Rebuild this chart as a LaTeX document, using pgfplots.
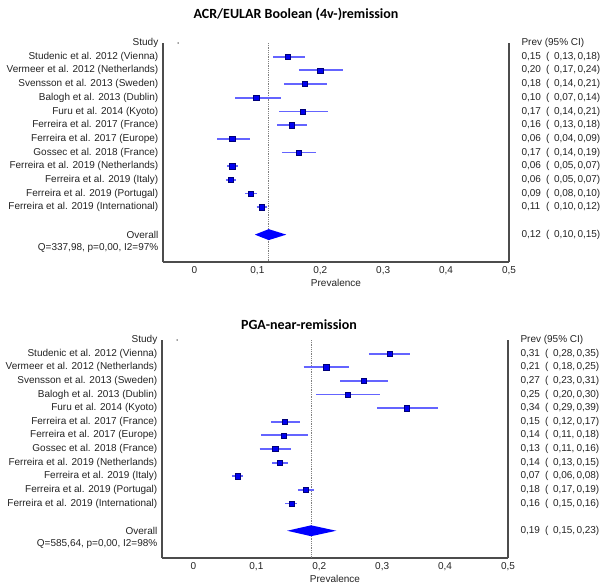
\documentclass[border=0pt]{standalone}
\usepackage{pgfplots}
\pgfplotsset{compat=1.18}
\usepackage{pgfplotstable}
\usepackage{fontspec}
\setmainfont{Liberation Sans}
\newfontfamily\titlefont{Carlito}

\definecolor{ciblue}{RGB}{100,100,255}
\definecolor{sqblue}{RGB}{0,0,240}
\definecolor{sqedge}{RGB}{0,0,120}
\definecolor{txt}{RGB}{35,35,35}

\newcommand\lbl{\fontsize{10bp}{12bp}\selectfont}
\newcommand\ttl{\titlefont\bfseries\fontsize{14bp}{16bp}\selectfont}
% estimate ( lower, upper ) column
\newcommand\pv[3]{\makebox[24.5bp][l]{#1}\makebox[8bp][l]{(}\makebox[23.5bp][l]{#2,}#3)}

% rows are negative so that the first study sits at the top
\pgfplotstableread{
row est lo hi
-1 0.148 0.125 0.175
-2 0.200 0.166 0.236
-3 0.175 0.142 0.210
-4 0.098 0.065 0.137
-5 0.172 0.135 0.212
-6 0.155 0.132 0.179
-7 0.060 0.036 0.088
-8 0.166 0.139 0.194
-9 0.060 0.052 0.070
-10 0.057 0.050 0.066
-11 0.089 0.081 0.099
-12 0.107 0.099 0.116
}\acrdata

\pgfplotstableread{
row est lo hi
-1 0.312 0.279 0.345
-2 0.211 0.175 0.247
-3 0.271 0.233 0.309
-4 0.245 0.195 0.297
-5 0.339 0.292 0.389
-6 0.145 0.124 0.170
-7 0.143 0.108 0.182
-8 0.130 0.105 0.155
-9 0.137 0.125 0.150
-10 0.070 0.062 0.079
-11 0.178 0.166 0.191
-12 0.156 0.146 0.165
}\pgadata

\pgfplotsset{
  forest/.style={
    scale only axis, width=346bp, height=219bp,
    xmin=-0.05, xmax=0.5, ymin=-16, ymax=0,
    axis x line=bottom, axis y line=box,
    axis line style={-, draw=black!70, line width=1.1bp},
    xtick={0,0.1,0.2,0.3,0.4,0.5},
    xticklabels={0,{0,1},{0,2},{0,3},{0,4},{0,5}},
    ytick={-15,-14,-12,-11,-10,-9,-8,-7,-6,-5,-4,-3,-2,-1,0},
    major tick length=0pt,
    tick label style={font=\lbl, text=txt},
    yticklabel style={inner sep=0pt, xshift=-4.5bp},
    xticklabel style={yshift=-1bp},
    xlabel={Prevalence}, xlabel style={font=\lbl, text=txt, yshift=2bp},
    clip=false,
  },
  % confidence interval: segment from lo to hi
  ci/.style={forget plot, draw=ciblue, line width=1.8bp, -,
    quiver={u=\thisrow{hi}-\thisrow{lo}, v=0}},
  sq/.style={only marks, mark=square*, mark size=2.6bp,
    mark options={fill=sqblue, draw=sqedge, line width=0.35bp}},
}

\begin{document}
\begin{tikzpicture}
\useasboundingbox (0,0) rectangle (605bp,-585bp);

\node[font=\ttl] at (296bp,-14bp) {ACR/EULAR Boolean (4v-)remission};
\begin{axis}[forest, at={(163bp,-43bp)}, anchor=north west,
  yticklabels={{Q=337,98, p=0,00, I2=97\%}, Overall,
    Ferreira et al. 2019 (International), Ferreira et al. 2019 (Portugal),
    Ferreira et al. 2019 (Italy), Ferreira et al. 2019 (Netherlands),
    Gossec et al. 2018 (France), Ferreira et al. 2017 (Europe),
    Ferreira et al. 2017 (France), Furu et al. 2014 (Kyoto),
    Balogh et al. 2013 (Dublin), Svensson et al. 2013 (Sweden),
    Vermeer et al. 2012 (Netherlands), Studenic et al. 2012 (Vienna), Study}]
\addplot[black!50, densely dotted, line width=0.8bp] coordinates {(0.118,0) (0.118,-16)};
\addplot[only marks, mark=*, mark size=0.5bp, black!60] coordinates {(-0.026,0)};
\addplot[ci] table[x=lo, y=row] {\acrdata};
\addplot[sq] table[x=est, y=row] {\acrdata};
\addplot[fill=blue, draw=none] coordinates {(0.096,-14) (0.118,-13.6) (0.146,-14) (0.118,-14.4)};
\begin{scope}[every node/.style={anchor=west, xshift=9bp, font=\lbl, text=txt}]
\node at (axis cs:0.5,0) {Prev (95\% CI)};
\node at (axis cs:0.5,-1) {\pv{0,15}{0,13}{0,18}};
\node at (axis cs:0.5,-2) {\pv{0,20}{0,17}{0,24}};
\node at (axis cs:0.5,-3) {\pv{0,18}{0,14}{0,21}};
\node at (axis cs:0.5,-4) {\pv{0,10}{0,07}{0,14}};
\node at (axis cs:0.5,-5) {\pv{0,17}{0,14}{0,21}};
\node at (axis cs:0.5,-6) {\pv{0,16}{0,13}{0,18}};
\node at (axis cs:0.5,-7) {\pv{0,06}{0,04}{0,09}};
\node at (axis cs:0.5,-8) {\pv{0,17}{0,14}{0,19}};
\node at (axis cs:0.5,-9) {\pv{0,06}{0,05}{0,07}};
\node at (axis cs:0.5,-10) {\pv{0,06}{0,05}{0,07}};
\node at (axis cs:0.5,-11) {\pv{0,09}{0,08}{0,10}};
\node at (axis cs:0.5,-12) {\pv{0,11}{0,10}{0,12}};
\node at (axis cs:0.5,-14) {\pv{0,12}{0,10}{0,15}};
\end{scope}
\end{axis}

\node[font=\ttl] at (299bp,-325bp) {PGA-near-remission};
\begin{axis}[forest, at={(162bp,-340bp)}, anchor=north west, height=218bp,
  yticklabels={{Q=585,64, p=0,00, I2=98\%}, Overall,
    Ferreira et al. 2019 (International), Ferreira et al. 2019 (Portugal),
    Ferreira et al. 2019 (Italy), Ferreira et al. 2019 (Netherlands),
    Gossec et al. 2018 (France), Ferreira et al. 2017 (Europe),
    Ferreira et al. 2017 (France), Furu et al. 2014 (Kyoto),
    Balogh et al. 2013 (Dublin), Svensson et al. 2013 (Sweden),
    Vermeer et al. 2012 (Netherlands), Studenic et al. 2012 (Vienna), Study}]
\addplot[black!50, densely dotted, line width=0.8bp] coordinates {(0.187,0) (0.187,-16)};
\addplot[only marks, mark=*, mark size=0.5bp, black!60] coordinates {(-0.026,0)};
\addplot[ci] table[x=lo, y=row] {\pgadata};
\addplot[sq] table[x=est, y=row] {\pgadata};
\addplot[fill=blue, draw=none] coordinates {(0.149,-14) (0.187,-13.6) (0.227,-14) (0.187,-14.4)};
\begin{scope}[every node/.style={anchor=west, xshift=9bp, font=\lbl, text=txt}]
\node at (axis cs:0.5,0) {Prev (95\% CI)};
\node at (axis cs:0.5,-1) {\pv{0,31}{0,28}{0,35}};
\node at (axis cs:0.5,-2) {\pv{0,21}{0,18}{0,25}};
\node at (axis cs:0.5,-3) {\pv{0,27}{0,23}{0,31}};
\node at (axis cs:0.5,-4) {\pv{0,25}{0,20}{0,30}};
\node at (axis cs:0.5,-5) {\pv{0,34}{0,29}{0,39}};
\node at (axis cs:0.5,-6) {\pv{0,15}{0,12}{0,17}};
\node at (axis cs:0.5,-7) {\pv{0,14}{0,11}{0,18}};
\node at (axis cs:0.5,-8) {\pv{0,13}{0,11}{0,16}};
\node at (axis cs:0.5,-9) {\pv{0,14}{0,13}{0,15}};
\node at (axis cs:0.5,-10) {\pv{0,07}{0,06}{0,08}};
\node at (axis cs:0.5,-11) {\pv{0,18}{0,17}{0,19}};
\node at (axis cs:0.5,-12) {\pv{0,16}{0,15}{0,16}};
\node at (axis cs:0.5,-14) {\pv{0,19}{0,15}{0,23}};
\end{scope}
\end{axis}
\end{tikzpicture}
\end{document}
